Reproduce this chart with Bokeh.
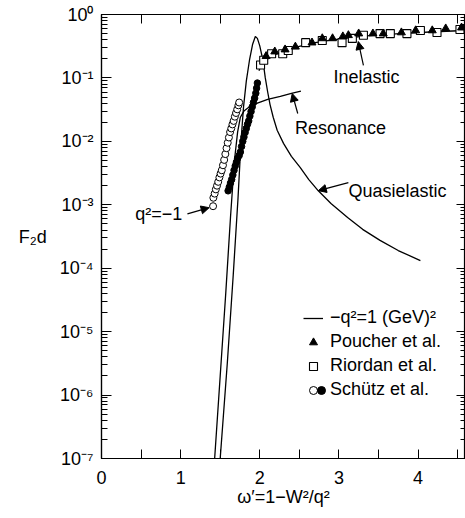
from bokeh.plotting import figure
from bokeh.models import (LinearAxis, LogAxis, FixedTicker, CustomJSTickFormatter,
                          Label, Arrow, NormalHead, Legend, LegendItem, Range1d)
from bokeh.embed import file_html
from bokeh.resources import INLINE

FONT = "Liberation Sans"

# ---- axes ticks ----
x_ticks = [0, 1, 2, 3, 4]
x_minor_ticks = [0.5, 1.5, 2.5, 3.5, 4.5]
y_ticks = [1e-7, 1e-6, 1e-5, 1e-4, 1e-3, 1e-2, 1e-1, 1e0]
y_minor_ticks = [m * 10.0 ** e for e in range(-7, 0) for m in range(2, 10)]

# ---- theory curves ----
qe_x = [1.50, 1.59, 1.665, 1.725, 1.765, 1.795, 1.83, 1.87, 1.91, 1.944, 1.97, 2.0,
        2.04, 2.07, 2.10, 2.13, 2.17, 2.22, 2.30, 2.40, 2.51, 2.62, 2.74, 2.90,
        3.11, 3.30, 3.52, 3.75, 4.03]
qe_y = [1.0e-7, 3.2e-6, 7.9e-5, 1.26e-3, 1.1e-2, 3.5e-2, 0.089, 0.19, 0.34, 0.45, 0.42, 0.32,
        0.19, 0.10, 0.060, 0.038, 0.024, 0.015, 9.3e-3, 5.8e-3, 3.9e-3, 2.5e-3, 1.66e-3, 1.05e-3,
        6.3e-4, 4.1e-4, 2.75e-4, 1.9e-4, 1.32e-4]

res_x = [1.43, 1.50, 1.57, 1.63, 1.68, 1.72, 1.755, 1.80, 1.87, 1.97, 2.10, 2.26, 2.40, 2.52]
res_y = [1.0e-7, 2.0e-6, 4.0e-5, 6.3e-4, 5.0e-3, 1.4e-2, 0.024, 0.030, 0.035, 0.040,
         0.046, 0.051, 0.057, 0.062]

inel_x = [1.99, 2.03, 2.10, 2.20, 2.35, 2.50, 2.70, 2.90, 3.10, 3.35, 3.60, 3.90, 4.20, 4.60]
inel_y = [0.13, 0.17, 0.20, 0.235, 0.275, 0.315, 0.36, 0.395, 0.425, 0.46, 0.485, 0.51, 0.535, 0.56]

# ---- data points ----
# Schutz et al. (open circles)
oc_x = [1.41, 1.414, 1.43, 1.445, 1.46, 1.475, 1.49, 1.505, 1.52, 1.535, 1.55, 1.565, 1.58,
        1.595, 1.61, 1.625, 1.64, 1.655, 1.67, 1.685, 1.70, 1.715, 1.73, 1.74]
oc_y = [9.5e-4, 1.29e-3, 1.5e-3, 1.75e-3, 2.0e-3, 2.3e-3, 2.7e-3, 3.1e-3, 3.5e-3, 4.2e-3,
        5.1e-3, 6.3e-3, 7.8e-3, 9.5e-3, 1.15e-2, 1.4e-2, 1.6e-2, 1.85e-2, 2.1e-2, 2.45e-2,
        2.8e-2, 3.2e-2, 3.7e-2, 4.1e-2]
# Schutz et al. (filled circles)
fc_x = [1.60, 1.615, 1.63, 1.645, 1.66, 1.675, 1.69, 1.705, 1.72, 1.74, 1.755, 1.77, 1.785,
        1.80, 1.815, 1.83, 1.845, 1.86, 1.875, 1.89, 1.905, 1.92, 1.935, 1.95, 1.96, 1.97]
fc_y = [1.66e-3, 1.9e-3, 2.2e-3, 2.5e-3, 2.95e-3, 3.5e-3, 4.1e-3, 4.7e-3, 5.4e-3, 6.0e-3,
        6.8e-3, 8.3e-3, 1.0e-2, 1.17e-2, 1.38e-2, 1.6e-2, 1.86e-2, 2.1e-2, 2.5e-2, 2.95e-2,
        3.5e-2, 4.1e-2, 4.8e-2, 5.75e-2, 6.9e-2, 8.3e-2]
# Riordan et al. (open squares)
sq_x = [2.01, 2.05, 2.15, 2.29, 2.36, 2.58, 2.79, 3.04, 3.17, 3.31, 3.52, 3.65, 3.86, 4.03, 4.24, 4.53]
sq_y = [0.16, 0.19, 0.24, 0.24, 0.27, 0.36, 0.39, 0.36, 0.42, 0.47, 0.50, 0.50, 0.50, 0.56, 0.52, 0.58]
# Poucher et al. (filled triangles)
tri_x = [2.08, 2.19, 2.32, 2.45, 2.66, 2.79, 2.92, 3.05, 3.12, 3.25, 3.43, 3.56, 3.79, 3.97,
         4.18, 4.35, 4.55]
tri_y = [0.22, 0.26, 0.28, 0.31, 0.36, 0.42, 0.42, 0.45, 0.47, 0.50, 0.50, 0.50, 0.52, 0.56,
         0.56, 0.60, 0.62]

p = figure(width=465, height=518, x_range=Range1d(0, 4.6), y_range=Range1d(1e-7, 1.0),
           y_axis_type="log", output_backend="svg", toolbar_location=None, title=None,
           min_border_left=101, min_border_right=0, min_border_top=14, min_border_bottom=60,
           background_fill_color="white", border_fill_color="white")
p.grid.visible = False
p.outline_line_color = "black"
p.outline_line_width = 1.2

sup_code = """
const sup = {'-':'\u207b','0':'\u2070','1':'\u00b9','2':'\u00b2','3':'\u00b3','4':'\u2074',
             '5':'\u2075','6':'\u2076','7':'\u2077','8':'\u2078','9':'\u2079'};
const e = Math.round(Math.log10(tick));
return '10' + String(e).split('').map(c => sup[c]).join('');
"""

xa = p.xaxis[0]
xa.ticker = FixedTicker(ticks=x_ticks, minor_ticks=x_minor_ticks)
xa.major_tick_in = 9
xa.major_tick_out = 0
xa.minor_tick_in = 9
xa.minor_tick_out = 0
xa.axis_line_width = 1.2
xa.major_label_text_font = FONT
xa.major_label_text_font_size = "18px"
xa.major_label_text_color = "black"
xa.major_label_standoff = 12
xa.axis_label = "\u03c9\u2032=1\u2212W\u00b2/q\u00b2"
xa.axis_label_text_font = FONT
xa.axis_label_text_font_size = "18px"
xa.axis_label_text_font_style = "normal"
xa.axis_label_text_color = "black"
xa.axis_label_standoff = 0

ya = p.yaxis[0]
ya.ticker = FixedTicker(ticks=y_ticks, minor_ticks=y_minor_ticks)
ya.formatter = CustomJSTickFormatter(code=sup_code)
ya.major_tick_in = 10
ya.major_tick_out = 0
ya.minor_tick_in = 6
ya.minor_tick_out = 0
ya.axis_line_width = 1.2
ya.major_label_text_font = FONT
ya.major_label_text_font_size = "18px"
ya.major_label_text_color = "black"
ya.major_label_standoff = 8
ya.axis_label = "F\u2082d"
ya.axis_label_orientation = "horizontal"
ya.axis_label_text_font = FONT
ya.axis_label_text_font_size = "18px"
ya.axis_label_text_font_style = "normal"
ya.axis_label_text_color = "black"
ya.axis_label_text_baseline = "bottom"
ya.axis_label_standoff = 10

blank = CustomJSTickFormatter(code="return '';")
ra = LogAxis(ticker=FixedTicker(ticks=y_ticks, minor_ticks=y_minor_ticks), formatter=blank,
             major_tick_in=9, major_tick_out=0, minor_tick_in=5, minor_tick_out=0,
             major_label_standoff=0, major_label_text_font_size="0px", axis_line_width=1.2)
p.add_layout(ra, "right")
ta = LinearAxis(ticker=FixedTicker(ticks=x_ticks, minor_ticks=x_minor_ticks), formatter=blank,
                major_tick_in=9, major_tick_out=0, minor_tick_in=9, minor_tick_out=0,
                major_label_standoff=0, major_label_text_font_size="0px", axis_line_width=1.2)
p.add_layout(ta, "above")

# curves
r_qe = p.line(qe_x, qe_y, line_color="black", line_width=1.3)
p.line(res_x, res_y, line_color="black", line_width=1.3)
p.line(inel_x, inel_y, line_color="black", line_width=1.3)

# data
r_sq = p.scatter(sq_x, sq_y, marker="square", size=8, fill_color="white",
                 line_color="black", line_width=1.1)
r_tri = p.scatter(tri_x, tri_y, marker="triangle", size=8, fill_color="black",
                  line_color="black")
r_oc = p.scatter(oc_x, oc_y, marker="circle", size=7, fill_color="white",
                 line_color="black", line_width=1)
r_fc = p.scatter(fc_x, fc_y, marker="circle", size=6.5, fill_color="black",
                 line_color="black")

# annotations
def lab(x, y, text, size="18px", align="center", baseline="middle"):
    p.add_layout(Label(x=x, y=y, text=text, text_font=FONT, text_font_size=size,
                       text_color="black", text_align=align, text_baseline=baseline))

def arr(x0, y0, x1, y1):
    p.add_layout(Arrow(end=NormalHead(size=8, line_color="black", fill_color="black", line_width=1),
                       x_start=x0, y_start=y0, x_end=x1, y_end=y1,
                       line_color="black", line_width=1.2))

lab(3.35, 0.105, "Inelastic")
arr(3.31, 0.158, 3.245, 0.375)
lab(3.02, 0.0165, "Resonance")
arr(2.48, 0.0275, 2.41, 0.0568)
lab(3.74, 1.67e-3, "Quasielastic")
arr(3.12, 2.24e-3, 2.74, 1.67e-3)
lab(1.02, 7.25e-4, "q\u00b2=\u22121", align="right")
arr(1.086, 7.2e-4, 1.36, 9.0e-4)

legend_style = dict(border_line_color=None, background_fill_alpha=0, padding=0, margin=0,
                    spacing=3, glyph_width=20, glyph_height=20, label_height=20,
                    label_standoff=7, label_text_font=FONT, label_text_font_size="18px",
                    label_text_color="black")
leg_a = Legend(items=[
    LegendItem(label="\u2212q\u00b2=1 (GeV)\u00b2", renderers=[r_qe]),
    LegendItem(label="Poucher et al.", renderers=[r_tri]),
    LegendItem(label="Riordan et al.", renderers=[r_sq]),
    LegendItem(label="Sch\u00fctz et al.", renderers=[r_oc]),
], location=(202, 58), **legend_style)
p.add_layout(leg_a)
leg_b = Legend(items=[LegendItem(label=" ", renderers=[r_fc])], location=(210, 58), **legend_style)
p.add_layout(leg_b)

open("out.html", "w").write(file_html(p, INLINE))
